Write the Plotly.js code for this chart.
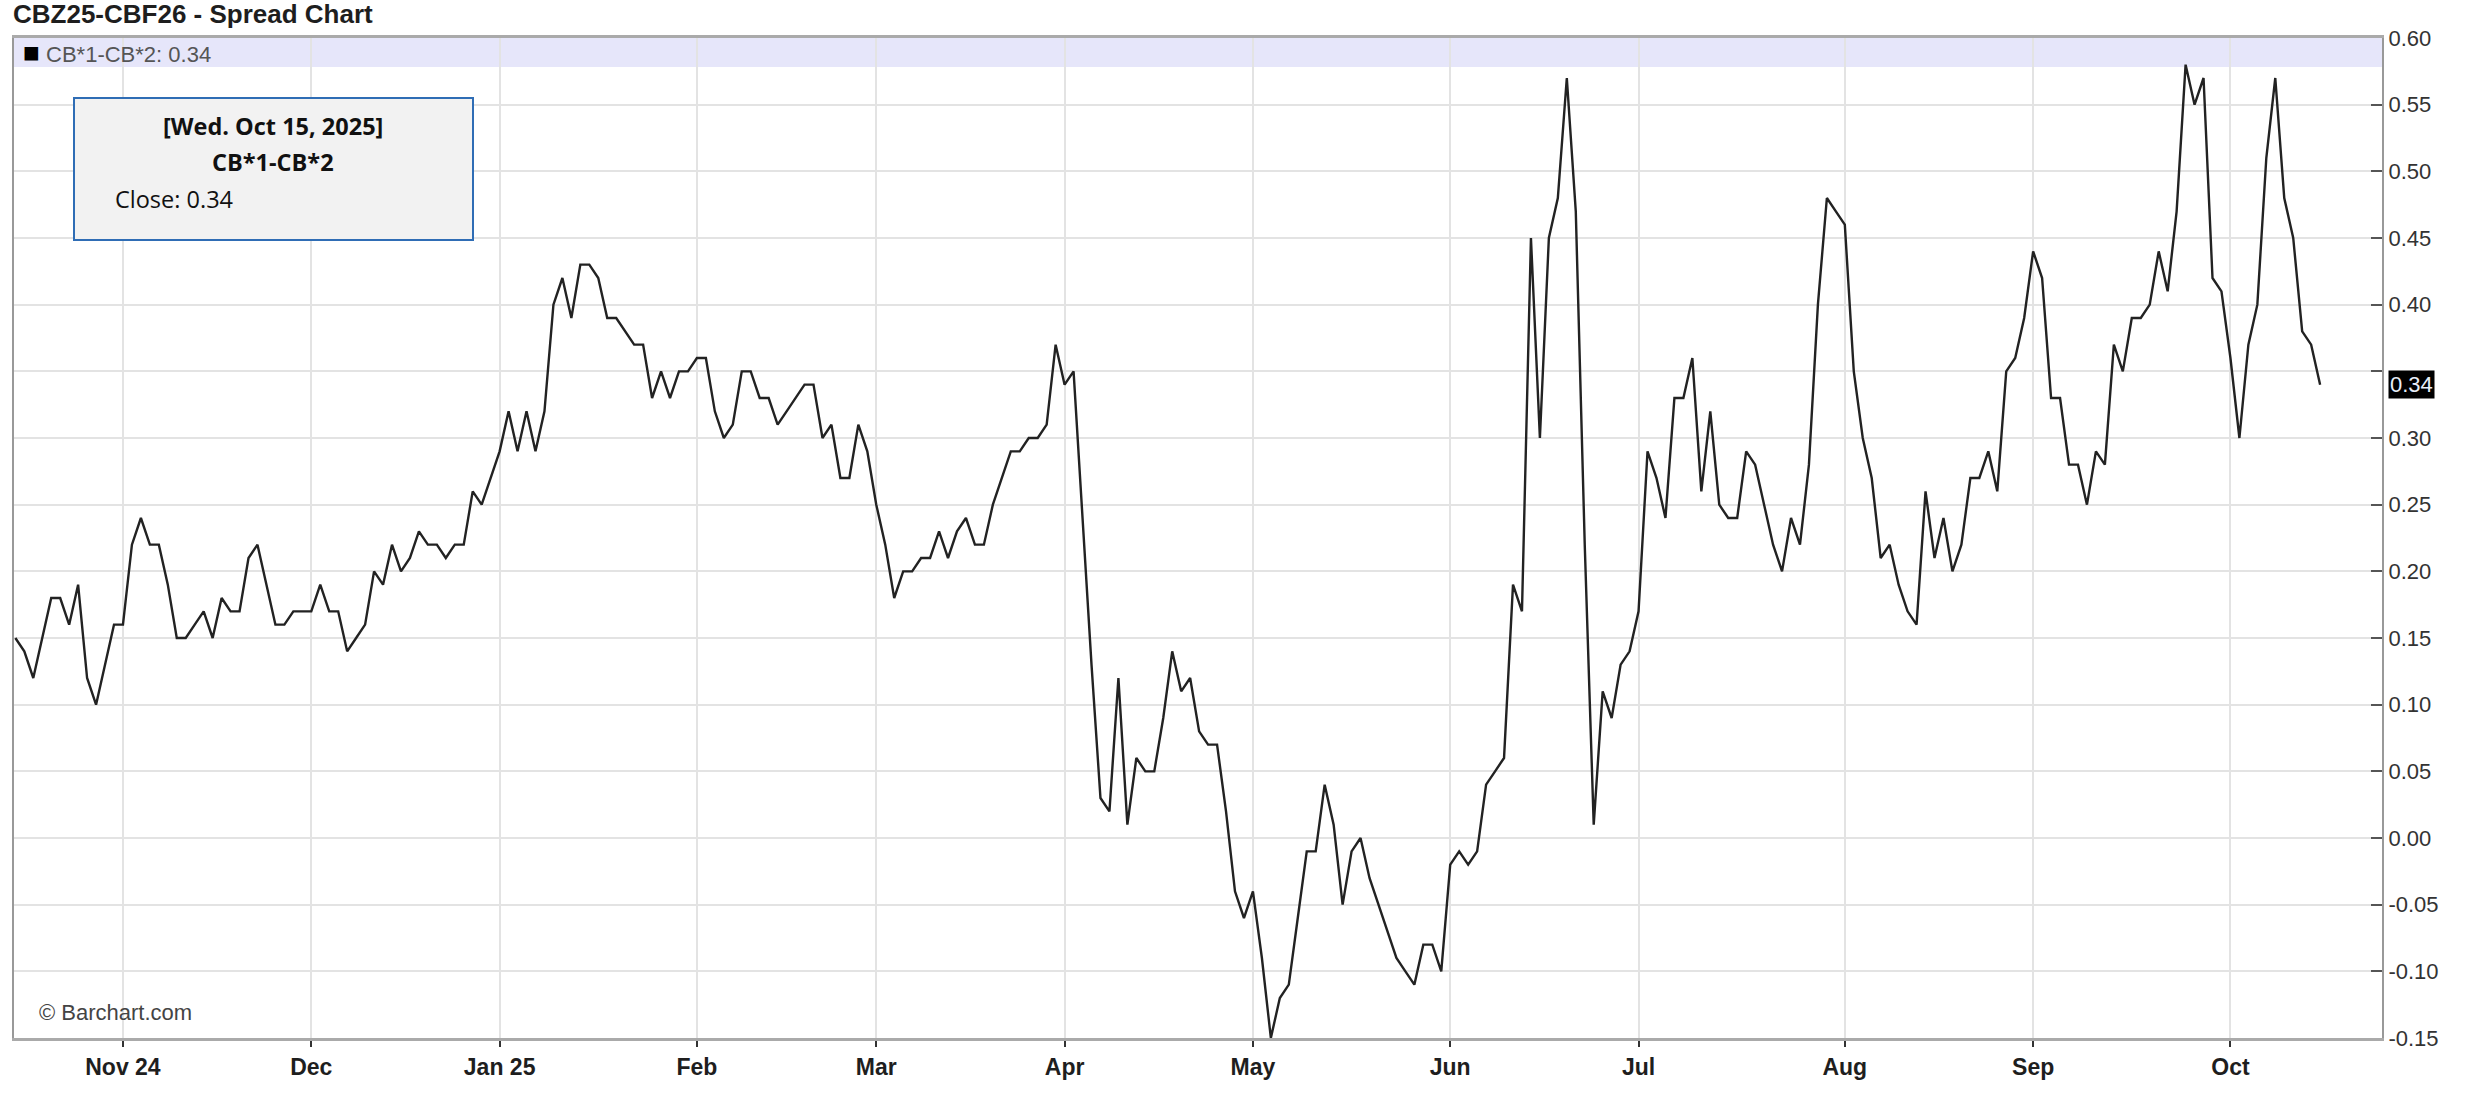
<!DOCTYPE html>
<html>
<head>
<meta charset="utf-8">
<script src="https://cdn.plot.ly/plotly-3.0.1.min.js"></script>
<style>
  html, body { margin: 0; padding: 0; background: #ffffff; }
  #chart { width: 2472px; height: 1104px; }
</style>
</head>
<body>
<div id="chart"></div>
<script>
// ---- Data ----
const seriesName = 'CB*1-CB*2';
const chartTitle = 'CBZ25-CBF26 - Spread Chart';
const firstDay = '2024-10-16';
const lastDay = '2025-10-15';
const exchangeHolidays = ['2024-12-25', '2025-01-01', '2025-04-18'];

// daily closes, one per trading day from firstDay to lastDay
const closes = [
  0.15, 0.14, 0.12, 0.15, 0.18, 0.18, 0.16, 0.19, 0.12, 0.10,
  0.13, 0.16, 0.16, 0.22, 0.24, 0.22, 0.22, 0.19, 0.15, 0.15,
  0.16, 0.17, 0.15, 0.18, 0.17, 0.17, 0.21, 0.22, 0.19, 0.16,
  0.16, 0.17, 0.17, 0.17, 0.19, 0.17, 0.17, 0.14, 0.15, 0.16,
  0.20, 0.19, 0.22, 0.20, 0.21, 0.23, 0.22, 0.22, 0.21, 0.22,
  0.22, 0.26, 0.25, 0.27, 0.29, 0.32, 0.29, 0.32, 0.29, 0.32,
  0.40, 0.42, 0.39, 0.43, 0.43, 0.42, 0.39, 0.39, 0.38, 0.37,
  0.37, 0.33, 0.35, 0.33, 0.35, 0.35, 0.36, 0.36, 0.32, 0.30,
  0.31, 0.35, 0.35, 0.33, 0.33, 0.31, 0.32, 0.33, 0.34, 0.34,
  0.30, 0.31, 0.27, 0.27, 0.31, 0.29, 0.25, 0.22, 0.18, 0.20,
  0.20, 0.21, 0.21, 0.23, 0.21, 0.23, 0.24, 0.22, 0.22, 0.25,
  0.27, 0.29, 0.29, 0.30, 0.30, 0.31, 0.37, 0.34, 0.35, 0.24,
  0.13, 0.03, 0.02, 0.12, 0.01, 0.06, 0.05, 0.05, 0.09, 0.14,
  0.11, 0.12, 0.08, 0.07, 0.07, 0.02, -0.04, -0.06, -0.04, -0.09,
  -0.15, -0.12, -0.11, -0.06, -0.01, -0.01, 0.04, 0.01, -0.05, -0.01,
  0.00, -0.03, -0.05, -0.07, -0.09, -0.10, -0.11, -0.08, -0.08, -0.10,
  -0.02, -0.01, -0.02, -0.01, 0.04, 0.05, 0.06, 0.19, 0.17, 0.45,
  0.30, 0.45, 0.48, 0.57, 0.47, 0.22, 0.01, 0.11, 0.09, 0.13,
  0.14, 0.17, 0.29, 0.27, 0.24, 0.33, 0.33, 0.36, 0.26, 0.32,
  0.25, 0.24, 0.24, 0.29, 0.28, 0.25, 0.22, 0.20, 0.24, 0.22,
  0.28, 0.40, 0.48, 0.47, 0.46, 0.35, 0.30, 0.27, 0.21, 0.22,
  0.19, 0.17, 0.16, 0.26, 0.21, 0.24, 0.20, 0.22, 0.27, 0.27,
  0.29, 0.26, 0.35, 0.36, 0.39, 0.44, 0.42, 0.33, 0.33, 0.28,
  0.28, 0.25, 0.29, 0.28, 0.37, 0.35, 0.39, 0.39, 0.40, 0.44,
  0.41, 0.47, 0.58, 0.55, 0.57, 0.42, 0.41, 0.36, 0.30, 0.37,
  0.40, 0.51, 0.57, 0.48, 0.45, 0.38, 0.37, 0.34
];

const monthLabels = ['Nov 24', 'Dec', 'Jan 25', 'Feb', 'Mar', 'Apr', 'May', 'Jun', 'Jul', 'Aug', 'Sep', 'Oct'];
const yTickValues = [-0.15, -0.10, -0.05, 0.00, 0.05, 0.10, 0.15, 0.20, 0.25, 0.30, 0.35, 0.40, 0.45, 0.50, 0.55, 0.60];
const yTickLabels = ['-0.15', '-0.10', '-0.05', '0.00', '0.05', '0.10', '0.15', '0.20', '0.25', '0.30', '', '0.40', '0.45', '0.50', '0.55', '0.60'];
const tooltipDate = '[Wed. Oct 15, 2025]';
const lastClose = 0.34;

// ---- Build the trading-day calendar (weekdays minus exchange holidays) ----
function tradingDays(start, end, holidays) {
  const out = [];
  const d = new Date(start + 'T00:00:00Z');
  const e = new Date(end + 'T00:00:00Z');
  while (d <= e) {
    const dow = d.getUTCDay();
    const iso = d.toISOString().slice(0, 10);
    if (dow !== 0 && dow !== 6 && holidays.indexOf(iso) < 0) out.push(iso);
    d.setUTCDate(d.getUTCDate() + 1);
  }
  return out;
}
const dates = tradingDays(firstDay, lastDay, exchangeHolidays);

// first trading day of every month after the first one
const monthTicks = [];
for (let i = 1; i < dates.length; i++) {
  if (dates[i].slice(0, 7) !== dates[i - 1].slice(0, 7)) monthTicks.push(dates[i]);
}

// ---- Plot geometry helpers (pixel -> paper) ----
const W = 2472, H = 1104;
const M = { l: 14, r: 90, t: 38, b: 66 };
const PW = W - M.l - M.r, PH = H - M.t - M.b;
const px = x => (x - M.l) / PW;
const py = y => (H - M.b - y) / PH;

const trace = {
  type: 'scatter',
  mode: 'lines',
  x: dates,
  y: closes,
  name: seriesName,
  line: { color: '#222222', width: 2.4 },
  hoverinfo: 'skip'
};

const axisFont = { family: 'Liberation Sans, Arial, sans-serif' };

const layout = {
  width: W,
  height: H,
  margin: M,
  paper_bgcolor: '#ffffff',
  plot_bgcolor: '#ffffff',
  showlegend: false,
  hovermode: false,
  title: {
    text: chartTitle,
    font: { family: 'Liberation Sans, Arial, sans-serif', size: 26, color: '#1e1e1e', weight: 'bold' },
    xref: 'container', yref: 'container',
    x: 13 / W, xanchor: 'left',
    y: 1 - 14 / H, yanchor: 'middle'
  },
  xaxis: {
    type: 'date',
    range: ['2024-10-15 20:24', '2025-10-23 21:36'],
    rangebreaks: [{ bounds: ['sat', 'mon'] }, { values: exchangeHolidays }],
    tickmode: 'array',
    tickvals: monthTicks,
    ticktext: monthLabels,
    ticks: 'outside',
    ticklen: 6,
    tickwidth: 2,
    tickcolor: '#333333',
    tickfont: { family: axisFont.family, size: 23, color: '#1e1e1e', weight: 'bold' },
    showgrid: true,
    gridcolor: '#e3e3e3',
    gridwidth: 2,
    showline: true,
    linecolor: '#aaaaaa',
    linewidth: 3,
    mirror: true,
    zeroline: false,
    fixedrange: true
  },
  yaxis: {
    side: 'right',
    range: [-0.15, 0.60],
    tickmode: 'array',
    tickvals: yTickValues,
    ticktext: yTickLabels,
    ticks: 'inside',
    ticklen: 11,
    tickwidth: 2,
    tickcolor: '#555555',
    tickfont: { family: axisFont.family, size: 22, color: '#333333' },
    showgrid: true,
    gridcolor: '#e3e3e3',
    gridwidth: 2,
    showline: true,
    linecolor: '#999999',
    linewidth: 2,
    mirror: true,
    zeroline: false,
    fixedrange: true
  },
  shapes: [
    // legend band
    { type: 'rect', xref: 'paper', yref: 'paper', x0: 0, x1: 1, y0: py(67), y1: 1,
      fillcolor: '#e6e6fa', line: { width: 0 }, layer: 'between' },
    // tooltip box
    { type: 'rect', xref: 'paper', yref: 'paper', x0: px(74), x1: px(473), y0: py(240), y1: py(98),
      fillcolor: '#f2f2f2', line: { color: '#2f6db5', width: 2 }, layer: 'above' }
  ],
  annotations: [
    { xref: 'paper', yref: 'paper', x: px(21), y: py(52), xanchor: 'left', yanchor: 'middle',
      text: '<span style="color:#000;font-size:28px">■</span> ' + seriesName + ': ' + lastClose.toFixed(2),
      showarrow: false, font: { family: axisFont.family, size: 22, color: '#555555' } },
    { xref: 'paper', yref: 'paper', x: px(273), y: py(126), xanchor: 'center', yanchor: 'middle',
      text: '<b>' + tooltipDate + '</b>', showarrow: false,
      font: { family: 'Open Sans, sans-serif', size: 23.5, color: '#111111' } },
    { xref: 'paper', yref: 'paper', x: px(273), y: py(162), xanchor: 'center', yanchor: 'middle',
      text: '<b>' + seriesName + '</b>', showarrow: false,
      font: { family: 'Open Sans, sans-serif', size: 23.5, color: '#111111' } },
    { xref: 'paper', yref: 'paper', x: px(113), y: py(199), xanchor: 'left', yanchor: 'middle',
      text: 'Close: ' + lastClose.toFixed(2), showarrow: false,
      font: { family: 'Open Sans, sans-serif', size: 23.5, color: '#111111' } },
    { xref: 'paper', yref: 'paper', x: px(37), y: py(1012), xanchor: 'left', yanchor: 'middle',
      text: '© Barchart.com', showarrow: false,
      font: { family: axisFont.family, size: 22, color: '#444444' } },
    { xref: 'paper', yref: 'y', x: 1, y: lastClose, xanchor: 'left', yanchor: 'middle', xshift: 6,
      text: lastClose.toFixed(2), showarrow: false, bgcolor: '#000000', borderpad: 1,
      font: { family: axisFont.family, size: 22, color: '#e8eef8' } }
  ]
};

Plotly.newPlot('chart', [trace], layout, { displayModeBar: false, staticPlot: true });
</script>
</body>
</html>
